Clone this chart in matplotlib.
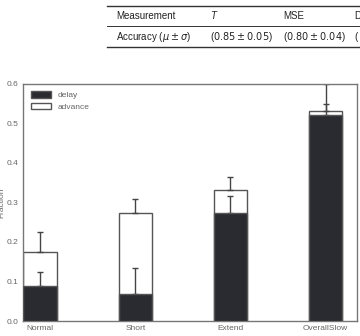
import matplotlib
matplotlib.use("Agg")
import matplotlib.pyplot as plt
from matplotlib.lines import Line2D
from matplotlib.patches import Patch
import numpy as np

# data
categories = ["Normal", "Short", "Extend", "OverallSlow"]
delay = [0.089, 0.069, 0.272, 0.521]
delay_err = [0.035, 0.064, 0.044, 0.028]
total = [0.175, 0.272, 0.332, 0.532]   # delay + advance
total_err = [0.051, 0.036, 0.033, 0.067]

table_header = ["Measurement", "T", "MSE", "D"]
table_row = ["Accuracy ($\\mu \\pm \\sigma$)", "($0.85 \\pm 0.05$)", "($0.80 \\pm 0.04$)", "("]

plt.rcParams["font.family"] = ["Liberation Sans", "DejaVu Sans"]
plt.rcParams["mathtext.fontset"] = "dejavusans"

W, H = 360, 336
fig = plt.figure(figsize=(W / 100, H / 100), dpi=100)

# partial table at the top of the page
def fx(px): return px / W
def fy(py): return 1 - py / H

for yy, lw in [(6, 1.0), (26, 0.7), (47, 1.0)]:
    fig.add_artist(Line2D([fx(107), 1], [fy(yy), fy(yy)], color="#333333", lw=lw))
col_x = [116, 210, 283, 354]
for i, txt in enumerate(table_header):
    style = "italic" if txt == "T" else "normal"
    fig.text(fx(col_x[i]), fy(16), txt, fontsize=7, va="center", ha="left",
             color="#222222", style=style)
for i, txt in enumerate(table_row):
    fig.text(fx(col_x[i]), fy(36.5), txt, fontsize=7, va="center", ha="left", color="#222222")

# bar chart
ax = fig.add_axes([fx(23), 1 - 321 / H, (357 - 23) / W, (321 - 83.7) / H])
x = np.arange(len(categories))
w = 0.35
dark = "#2a2b30"
edge = "#555555"

ax.bar(x, total, w, color="white", edgecolor=edge, linewidth=1.0, zorder=1)
ax.errorbar(x, total, yerr=[np.zeros(4), total_err], fmt="none", ecolor="#444444",
            elinewidth=1.0, capsize=2.5, capthick=1.0, zorder=2)
ax.errorbar(x, delay, yerr=[np.zeros(4), delay_err], fmt="none", ecolor="#444444",
            elinewidth=1.0, capsize=2.5, capthick=1.0, zorder=2)
ax.bar(x, delay, w, color=dark, edgecolor=edge, linewidth=1.0, zorder=3)

ax.set_xlim(-0.18, 3.33)
ax.set_ylim(0, 0.6)
ax.set_xticks(x)
ax.set_xticklabels(categories)
ax.set_yticks([0.0, 0.1, 0.2, 0.3, 0.4, 0.5, 0.6])
ax.set_yticklabels(["0.0", "0.1", "0.2", "0.3", "0.4", "0.5", "0.6"])
ax.tick_params(length=0, labelsize=6, labelcolor="#666666", pad=3)
for s in ax.spines.values():
    s.set_color("#777777")
    s.set_linewidth(1.0)
ax.set_ylabel("Fraction", fontsize=6, color="#666666")
ax.yaxis.set_label_coords(-0.052, 0.5)

handles = [Patch(facecolor=dark, edgecolor=edge, label="delay"),
           Patch(facecolor="white", edgecolor=edge, label="advance")]
ax.legend(handles=handles, loc="upper left", frameon=False, fontsize=6,
          labelcolor="#666666", handlelength=2.4, handleheight=0.8,
          borderaxespad=0.5, handletextpad=0.8, labelspacing=0.4)

fig.savefig("out.png", dpi=100)
